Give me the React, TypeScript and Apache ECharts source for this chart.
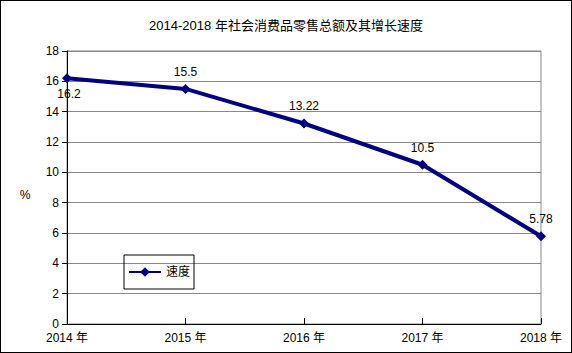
import React, { useEffect, useRef } from "react";
import * as echarts from "echarts";

const categories = ["2014 年", "2015 年", "2016 年", "2017 年", "2018 年"];
const speed = [16.2, 15.5, 13.22, 10.5, 5.78];
const seriesName = "速度";
const title = "2014-2018 年社会消费品零售总额及其增长速度";
const yName = "%";

const FONT = "'Liberation Sans', Arial, 'Noto Sans CJK SC', sans-serif";

export default function App() {
  const ref = useRef<HTMLDivElement>(null);
  useEffect(() => {
    const chart = echarts.init(ref.current!, undefined, { renderer: "svg" });
    chart.setOption({
      animation: false,
      backgroundColor: "#fff",
      textStyle: { fontFamily: FONT },
      title: {
        text: title,
        left: "center",
        top: 13,
        textStyle: { fontSize: 13, fontWeight: "normal", color: "#000", fontFamily: FONT },
      },
      graphic: [
        {
          type: "text",
          x: 24,
          y: 194,
          style: {
            text: yName,
            fill: "#000",
            fontSize: 12,
            fontFamily: FONT,
            align: "center",
            verticalAlign: "middle",
          },
        },
      ],
      legend: {
        left: 123,
        top: 254,
        orient: "vertical",
        borderColor: "#000",
        borderWidth: 1,
        padding: [11, 4, 11, 4],
        itemWidth: 32,
        itemHeight: 12,
        itemGap: 0,
        textStyle: { fontSize: 12, color: "#000", fontFamily: FONT },
        data: [{ name: seriesName }],
      },
      grid: {
        left: 66,
        right: 30,
        top: 50,
        bottom: 28,
        show: true,
        borderColor: "#888",
        borderWidth: 1,
        backgroundColor: "transparent",
      },
      xAxis: {
        type: "category",
        data: categories,
        boundaryGap: false,
        axisLine: { lineStyle: { color: "#000", width: 1 } },
        axisTick: { inside: true, length: 6, lineStyle: { color: "#000" } },
        axisLabel: { color: "#000", fontSize: 12, margin: 8, fontFamily: FONT },
      },
      yAxis: {
        type: "value",
        min: 0,
        max: 18,
        interval: 2,
        axisLine: { show: true, lineStyle: { color: "#000", width: 1 } },
        axisTick: { show: true, length: 5, lineStyle: { color: "#000" } },
        axisLabel: { color: "#000", fontSize: 12, margin: 8, fontFamily: FONT },
        splitLine: { lineStyle: { color: "#888", width: 1 } },
      },
      series: [
        {
          name: seriesName,
          type: "line",
          data: speed.map((v, i) =>
            i === 0
              ? { value: v, label: { position: "bottom", distance: 5, offset: [2, 0] } }
              : { value: v }
          ),
          symbol: "diamond",
          symbolSize: 10,
          lineStyle: { color: "#000080", width: 4 },
          itemStyle: { color: "#000080" },
          label: {
            show: true,
            position: "top",
            distance: 6,
            color: "#000",
            fontSize: 12,
            fontFamily: FONT,
          },
        },
      ],
    });
    return () => chart.dispose();
  }, []);
  return (
    <div
      style={{
        position: "fixed",
        left: 0,
        top: 0,
        width: 572,
        height: 353,
        boxSizing: "border-box",
        border: "1px solid #000",
        background: "#fff",
      }}
    >
      <div ref={ref} style={{ width: 570, height: 351 }} />
    </div>
  );
}
